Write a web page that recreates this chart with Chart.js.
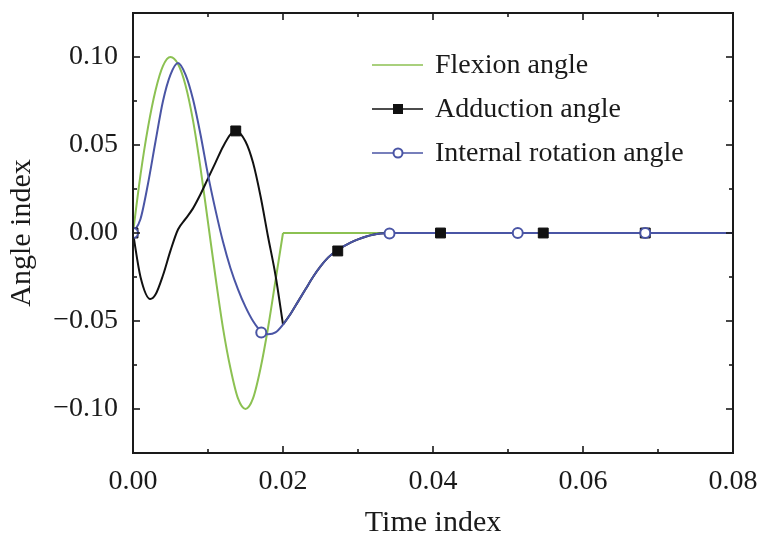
<!DOCTYPE html>
<html lang="en">
<head>
<meta charset="UTF-8">
<title>Angle index vs time index</title>
<script src="https://cdn.jsdelivr.net/npm/chart.js@4.4.0/dist/chart.umd.min.js"></script>
<style>
    body { margin: 0; background: #fff; }
    .chart-box { position: relative; width: 759px; height: 537px; }
</style>
</head>
<body>
<div class="chart-box"><canvas id="chart"></canvas></div>
<script>
// series names (legend order)
const seriesNames = ['Flexion angle', 'Adduction angle', 'Internal rotation angle'];

// flexion: oscillation up to t = 0.02, then flat
const flexionTime  = [0, 0.001, 0.002, 0.003, 0.004, 0.005, 0.006, 0.007, 0.008, 0.009, 0.010,
                      0.011, 0.012, 0.013, 0.014, 0.015, 0.016, 0.017, 0.018, 0.019, 0.020];
const flexionAngle = [0, 0.033, 0.060, 0.081, 0.095, 0.100, 0.096, 0.084, 0.064, 0.037, 0.006,
                      -0.025, -0.054, -0.077, -0.094, -0.100, -0.094, -0.077, -0.054, -0.027, 0];
const flexionTailTime  = [0.020, 0.080];
const flexionTailAngle = [0, 0];

// adduction: own shape up to t = 0.02, afterwards it runs on the rotation curve
const adductionTime  = [0, 0.001, 0.0023, 0.003, 0.004, 0.005, 0.006, 0.007, 0.008, 0.009, 0.010,
                        0.011, 0.012, 0.013, 0.0137, 0.015, 0.016, 0.017, 0.018, 0.019, 0.020];
const adductionAngle = [0, -0.025, -0.0375, -0.035, -0.024, -0.010, 0.002, 0.008, 0.014, 0.022, 0.031,
                        0.040, 0.049, 0.056, 0.058, 0.052, 0.040, 0.021, -0.002, -0.024, -0.052];

// internal rotation
const rotationTime  = [0, 0.001, 0.002, 0.003, 0.004, 0.005, 0.006, 0.007, 0.008, 0.009, 0.010,
                       0.011, 0.012, 0.013, 0.014, 0.015, 0.016, 0.017, 0.018, 0.019, 0.020,
                       0.021, 0.022, 0.023, 0.024, 0.025, 0.026, 0.027, 0.028, 0.029, 0.030,
                       0.031, 0.032, 0.033, 0.034, 0.080];
const rotationAngle = [0, 0.008, 0.028, 0.052, 0.075, 0.090, 0.0966, 0.090, 0.076, 0.056, 0.033,
                       0.013, -0.005, -0.020, -0.032, -0.042, -0.050, -0.0555, -0.0575, -0.0565, -0.052,
                       -0.046, -0.039, -0.032, -0.025, -0.019, -0.014, -0.0105, -0.0078, -0.0055, -0.0036,
                       -0.0021, -0.001, -0.0003, 0, 0];

// marker positions
const adductionMarkerTime  = [0, 0.0137, 0.0273, 0.0410, 0.0547, 0.0683];
const adductionMarkerAngle = [0, 0.058, -0.0102, 0, 0, 0];
const rotationMarkerTime   = [0, 0.0171, 0.0342, 0.0513, 0.0683];
const rotationMarkerAngle  = [0, -0.0565, -0.0003, 0, 0];

// axis ticks
const xMajorTicks = [0, 0.02, 0.04, 0.06, 0.08];
const xMinorTicks = [0.01, 0.03, 0.05, 0.07];
const yMajorTicks = [-0.10, -0.05, 0, 0.05, 0.10];
const yMinorTicks = [-0.075, -0.025, 0.025, 0.075];

const GREEN = '#8cc152';
const BLACK = '#111111';
const BLUE = '#4a55a5';
const INK = '#1a1a1a';
const FONT = "'Liberation Serif', 'Times New Roman', serif";

function pts(xs, ys) {
    return xs.map((x, i) => ({ x: x, y: ys[i] }));
}

function fmt(v) {
    const s = Math.abs(v).toFixed(2);
    return v < -1e-9 ? '\u2212' + s : s;
}

// tail of the adduction curve lies on top of the rotation curve after t = 0.02
const tailStart = rotationTime.indexOf(0.020);

const lineBase = { pointRadius: 0, borderWidth: 2, cubicInterpolationMode: 'monotone', fill: false };

// frame with inward ticks on all four sides
const frameTicks = {
    id: 'frameTicks',
    afterDatasetsDraw(chart) {
        const { ctx, chartArea: a, scales: { x, y } } = chart;
        ctx.save();
        ctx.strokeStyle = INK;
        ctx.lineWidth = 1.6;
        const seg = (x1, y1, x2, y2) => { ctx.beginPath(); ctx.moveTo(x1, y1); ctx.lineTo(x2, y2); ctx.stroke(); };
        const xt = (v, len) => { const p = x.getPixelForValue(v); seg(p, a.bottom, p, a.bottom - len); seg(p, a.top, p, a.top + len); };
        const yt = (v, len) => { const p = y.getPixelForValue(v); seg(a.left, p, a.left + len, p); seg(a.right, p, a.right - len, p); };
        xMajorTicks.forEach(v => xt(v, 7));
        xMinorTicks.forEach(v => xt(v, 4));
        yMajorTicks.forEach(v => yt(v, 7));
        yMinorTicks.forEach(v => yt(v, 4));
        ctx.lineWidth = 2;
        ctx.strokeRect(a.left, a.top, a.right - a.left, a.bottom - a.top);
        ctx.restore();
    }
};

// legend: line sample with marker in the middle, then the label
const legendBox = {
    id: 'legendBox',
    afterDraw(chart) {
        const ctx = chart.ctx;
        const styles = [
            { color: GREEN, marker: null },
            { color: BLACK, marker: 'rect' },
            { color: BLUE, marker: 'circle' }
        ];
        ctx.save();
        ctx.font = '28px ' + FONT;
        ctx.textBaseline = 'middle';
        seriesNames.forEach((name, i) => {
            const yy = 65 + i * 44;
            const st = styles[i];
            ctx.strokeStyle = st.color;
            ctx.lineWidth = 1.6;
            ctx.beginPath(); ctx.moveTo(372, yy); ctx.lineTo(423, yy); ctx.stroke();
            if (st.marker === 'rect') {
                ctx.fillStyle = st.color;
                ctx.fillRect(393, yy - 5, 10, 10);
            } else if (st.marker === 'circle') {
                ctx.fillStyle = '#fff';
                ctx.lineWidth = 2;
                ctx.beginPath(); ctx.arc(398, yy, 4.5, 0, Math.PI * 2); ctx.fill(); ctx.stroke();
            }
            ctx.fillStyle = INK;
            ctx.fillText(name, 435, yy + 1);
        });
        ctx.restore();
    }
};

Chart.defaults.font.family = FONT;
Chart.defaults.font.size = 28;
Chart.defaults.color = INK;

new Chart(document.getElementById('chart'), {
    type: 'line',
    data: {
        datasets: [
            Object.assign({ label: seriesNames[0], data: pts(flexionTime, flexionAngle), borderColor: GREEN, order: 7 }, lineBase),
            Object.assign({ label: seriesNames[0] + ' tail', data: pts(flexionTailTime, flexionTailAngle), borderColor: GREEN, order: 7 }, lineBase),
            Object.assign({ label: seriesNames[1], data: pts(adductionTime, adductionAngle), borderColor: BLACK, order: 6 }, lineBase),
            Object.assign({ label: seriesNames[1] + ' tail', data: pts(rotationTime.slice(tailStart), rotationAngle.slice(tailStart)), borderColor: BLACK, order: 6 }, lineBase),
            Object.assign({ label: seriesNames[2], data: pts(rotationTime, rotationAngle), borderColor: BLUE, order: 5 }, lineBase),
            {
                label: seriesNames[1] + ' markers',
                data: pts(adductionMarkerTime, adductionMarkerAngle),
                showLine: false, pointStyle: 'rect', pointRadius: 7,
                pointBackgroundColor: BLACK, pointBorderColor: BLACK, pointBorderWidth: 1,
                order: 4
            },
            {
                label: seriesNames[2] + ' markers',
                data: pts(rotationMarkerTime, rotationMarkerAngle),
                showLine: false, pointStyle: 'circle', pointRadius: 5,
                pointBackgroundColor: '#fff', pointBorderColor: BLUE, pointBorderWidth: 2,
                order: 3
            }
        ]
    },
    options: {
        responsive: true,
        maintainAspectRatio: false,
        animation: false,
        layout: { padding: { left: 0, right: 26, top: 13, bottom: 0 } },
        plugins: {
            legend: { display: false },
            tooltip: { enabled: false }
        },
        scales: {
            x: {
                type: 'linear',
                min: 0,
                max: 0.08,
                afterBuildTicks: s => { s.ticks = xMajorTicks.map(v => ({ value: v })); },
                afterFit: s => { s.height = 84; s.paddingLeft = 0; s.paddingRight = 0; },
                grid: { display: false },
                border: { display: false },
                ticks: { padding: 4, maxRotation: 0, callback: v => fmt(v) },
                title: { display: true, text: 'Time index', font: { size: 30, lineHeight: 0.9 }, padding: { top: 0, bottom: 0 } }
            },
            y: {
                type: 'linear',
                min: -0.125,
                max: 0.125,
                afterBuildTicks: s => { s.ticks = yMajorTicks.map(v => ({ value: v })); },
                afterFit: s => { s.width = 133; s.paddingTop = 0; s.paddingBottom = 0; },
                grid: { display: false },
                border: { display: false },
                ticks: { padding: 7, callback: v => fmt(v) },
                title: { display: true, text: 'Angle index', font: { size: 30, lineHeight: 1 }, padding: { top: 7, bottom: 0 } }
            }
        }
    },
    plugins: [frameTicks, legendBox]
});
</script>
</body>
</html>
